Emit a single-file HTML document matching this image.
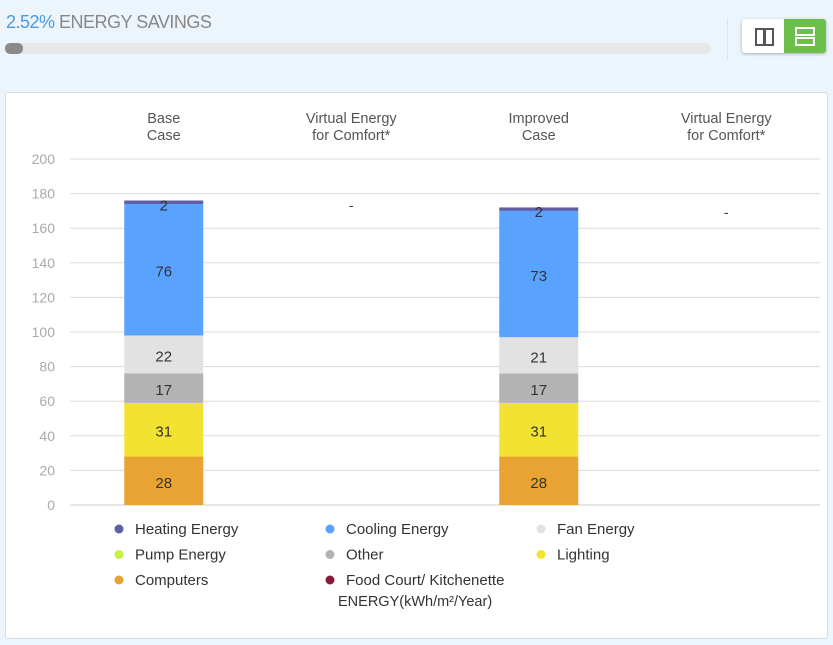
<!DOCTYPE html>
<html><head><meta charset="utf-8"><style>
body{margin:0;width:833px;height:645px;background:#edf5fc;font-family:"Liberation Sans",sans-serif;position:relative;overflow:hidden}
.abs{position:absolute}
</style></head><body>
<div class="abs" style="left:6px;top:12px;font-size:18px;color:#888;letter-spacing:-0.5px"><span style="color:#4a9ae0">2.52%</span> ENERGY SAVINGS</div>
<div class="abs" style="left:5px;top:43px;width:706px;height:11px;background:#e8e8e8;border-radius:5px"><div style="width:18px;height:11px;background:#8a8a8a;border-radius:5px"></div></div>
<div class="abs" style="left:727px;top:18px;width:1px;height:42px;background:#dde3e8"></div>
<div class="abs" style="left:742px;top:19px;width:84px;height:34px;border-radius:3px;box-shadow:0 1px 3px rgba(0,0,0,.3);overflow:hidden;background:#fff">
 <div class="abs" style="left:0;top:0;width:42px;height:34px">
  <div class="abs" style="left:13px;top:9px;width:6px;height:14px;border:2px solid #555"></div><div class="abs" style="left:22px;top:9px;width:6px;height:14px;border:2px solid #555"></div></div>
 <div class="abs" style="left:42px;top:0;width:42px;height:34px;background:#6cbf4a">
  <div class="abs" style="left:11px;top:8px;width:16px;height:5px;border:2px solid #fff"></div><div class="abs" style="left:11px;top:18px;width:16px;height:5px;border:2px solid #fff"></div></div>
</div>
<div class="abs" style="left:5px;top:92px;width:821px;height:545px;background:#fff;border:1px solid #d5dde4;border-radius:3px"></div>
<svg class="abs" style="left:0;top:0" width="833" height="645" id="chart"></svg>
<script>
const categories=["Base\nCase","Virtual Energy\nfor Comfort*","Improved\nCase","Virtual Energy\nfor Comfort*"];
const seriesNames=["Computers","Lighting","Other","Fan Energy","Cooling Energy","Heating Energy"];
const seriesColors=["#e8a333","#f2e232","#b3b3b3","#e2e2e2","#5aa2ff","#5f5ea8"];
const baseValues=[28,31,17,22,76,2];
const improvedValues=[28,31,17,21,73,2];
const yTicks=[0,20,40,60,80,100,120,140,160,180,200];
const legendItems=[["Heating Energy","#5f5ea8"],["Cooling Energy","#5aa2ff"],["Fan Energy","#e2e2e2"],["Pump Energy","#c5f23c"],["Other","#b3b3b3"],["Lighting","#f2e232"],["Computers","#e8a333"],["Food Court/ Kitchenette","#8a1a3a"]];
const NS="http://www.w3.org/2000/svg",svg=document.getElementById('chart');
const y0=505,y1=159,x0=70,x1=820;
const y=v=>y0-(v/200)*(y0-y1);
const cw=(x1-x0)/categories.length, cx=i=>x0+cw*(i+0.5);
function mk(t,a,txt){const e=document.createElementNS(NS,t);for(const k in a)e.setAttribute(k,a[k]);if(txt!=null)e.textContent=txt;svg.appendChild(e);return e;}
yTicks.forEach(t=>{
 const l=mk('line',{x1:x0,x2:x1,y1:y(t),y2:y(t),stroke:t==0?'#ccc':'#dcdcdc'});
 
 
 const tx=mk('text',{x:55,y:y(t)+5,'text-anchor':'end','font-size':14,fill:'#aaa'},t);
 
 
});
categories.forEach((c,i)=>{
 c.split('\n').forEach((s,j)=>{
  const t=mk('text',{x:cx(i),y:123+j*17,'text-anchor':'middle','font-size':14.5,fill:'#555'},s);
  
  
 });
});
function stack(vals,i){
 let acc=0;const bw=79;
 vals.forEach((v,k)=>{
  const r=mk('rect',{x:cx(i)-bw/2,y:y(acc+v),width:bw,height:y(acc)-y(acc+v),fill:seriesColors[k]});
  
  
  const t=mk('text',{x:cx(i),y:(y(acc)+y(acc+v))/2+(v<5?8:7),'text-anchor':'middle','font-size':15,fill:'#333'},v);
  
  
  acc+=v;
 });
}
stack(baseValues,0);stack(improvedValues,2);
[1,3].forEach(i=>{const t=mk('text',{x:cx(i),y:i==1?210:217,'text-anchor':'middle','font-size':14,fill:'#333'},'-');
 
 });
legendItems.forEach((it,k)=>{
 const col=k%3,row=Math.floor(k/3);const lx=119+col*211,ly=529+row*25.5;
 const c=mk('circle',{cx:lx,cy:ly,r:4.5,fill:it[1]});
 
 
 const t=mk('text',{x:lx+16,y:ly+5,'font-size':15,fill:'#333'},it[0]);
 
 
});
const u=mk('text',{x:338,y:606,'font-size':14.5,fill:'#333'},'ENERGY(kWh/m²/Year)');


</script>
</body></html>
